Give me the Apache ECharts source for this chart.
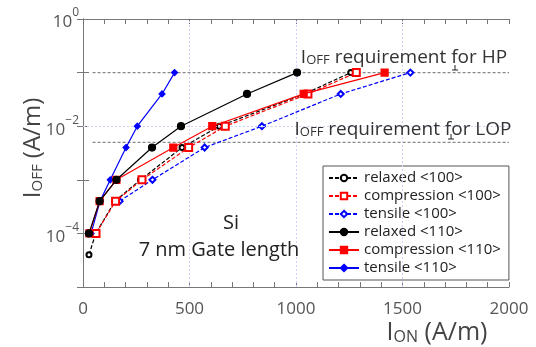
<!DOCTYPE html>
<html><head><meta charset="utf-8">
<script src="https://cdn.jsdelivr.net/npm/echarts@6/dist/echarts.min.js"></script>
<style>html,body{margin:0;padding:0;background:#fff}#c{width:536px;height:347px}</style>
</head><body><div id="c"></div>
<script>
// ---- data ----
const xTicks = [0, 500, 1000, 1500, 2000];
const yTickExps = [0, -2, -4];
const gridX = [500, 1000, 1500];
const gridY = [1e-2, 1e-4];
const hpLevel = 0.1;
const lopLevel = 0.005;
const reqStart = 45;

const ionRelaxed100 = [28, 60, 150, 270, 465, 640, 1040, 1257];
const ioffRelaxed100 = [4e-5, 1e-4, 4e-4, 1e-3, 4e-3, 1e-2, 4e-2, 1e-1];
const ionComp100 = [61, 153, 277, 496, 668, 1056, 1283];
const ioffComp100 = [1e-4, 4e-4, 1e-3, 4e-3, 1e-2, 4e-2, 1e-1];
const ionTens100 = [172, 326, 571, 840, 1210, 1537];
const ioffTens100 = [4e-4, 1e-3, 4e-3, 1e-2, 4e-2, 1e-1];
const ionRelaxed110 = [28, 78, 157, 324, 460, 770, 1005];
const ioffRelaxed110 = [1e-4, 4e-4, 1e-3, 4e-3, 1e-2, 4e-2, 1e-1];
const ionComp110 = [30, 78, 157, 424, 607, 1036, 1416];
const ioffComp110 = [1e-4, 4e-4, 1e-3, 4e-3, 1e-2, 4e-2, 1e-1];
const ionTens110 = [38, 80, 128, 202, 255, 371, 430];
const ioffTens110 = [1e-4, 4e-4, 1e-3, 4e-3, 1e-2, 4e-2, 1e-1];

const names = ['relaxed <100>', 'compression <100>', 'tensile <100>', 'relaxed <110>', 'compression <110>', 'tensile <110>'];

// ---- chart ----
const FONT = 'Open Sans';
const zip = (a, b) => a.map((v, i) => [v, b[i]]);
const chart = echarts.init(document.getElementById('c'), null, {renderer: 'canvas'});
const axisCol = '#777';
const labelCol = '#555';

function yFmt(v) {
  const e = Math.round(Math.log10(v));
  if (yTickExps.indexOf(e) < 0) return '';
  return '{b|10}{s|' + (e === 0 ? '0' : '\u2212' + (-e)) + '}';
}

function mkSeries(name, x, y, color, symbol, size, dashed, z) {
  return {
    name, type: 'line', data: zip(x, y), symbol, symbolSize: size, z: z,
    lineStyle: {color, width: 1.2, type: dashed ? [4, 2] : 'solid'},
    itemStyle: {color, borderColor: color, borderWidth: 1.2},
    emphasis: {disabled: true}, animation: false
  };
}

const option = {
  animation: false,
  backgroundColor: '#fff',
  textStyle: {fontFamily: FONT},
  grid: {left: 83, right: 27, top: 19, bottom: 60},
  xAxis: [{
    type: 'value', min: 0, max: 2000, interval: 500, position: 'bottom',
    axisLine: {show: true, lineStyle: {color: axisCol, width: 1}},
    axisTick: {show: true, inside: true, length: 5, lineStyle: {color: axisCol}},
    minorTick: {show: true, splitNumber: 5, length: 5, lineStyle: {color: axisCol}},
    axisLabel: {color: labelCol, fontSize: 17, margin: 14, fontFamily: FONT,
      formatter: v => xTicks.indexOf(v) >= 0 ? String(v) : ''},
    splitLine: {show: false}
  }, {
    type: 'value', min: 0, max: 2000, interval: 500, position: 'top',
    axisLine: {show: true, lineStyle: {color: axisCol, width: 1}},
    axisTick: {show: true, inside: true, length: 5, lineStyle: {color: axisCol}},
    minorTick: {show: true, splitNumber: 5, length: 5, lineStyle: {color: axisCol}},
    axisLabel: {show: false}, splitLine: {show: false}
  }],
  yAxis: [{
    type: 'log', logBase: 10, min: 1e-5, max: 1, interval: 1, position: 'left',
    axisLine: {show: true, lineStyle: {color: axisCol, width: 1}},
    axisTick: {show: true, inside: true, length: 6, lineStyle: {color: axisCol}},
    axisLabel: {color: labelCol, margin: 4, fontFamily: FONT, formatter: yFmt,
      rich: {
        b: {fontSize: 17, color: labelCol, fontFamily: FONT, lineHeight: 24, verticalAlign: 'bottom'},
        s: {fontSize: 12, color: labelCol, fontFamily: FONT, lineHeight: 24, verticalAlign: 'top'}
      }},
    splitLine: {show: false}
  }, {
    type: 'log', logBase: 10, min: 1e-5, max: 1, interval: 1, position: 'right',
    axisLine: {show: true, lineStyle: {color: axisCol, width: 1}},
    axisTick: {show: true, inside: true, length: 6, lineStyle: {color: axisCol}},
    axisLabel: {show: false}, splitLine: {show: false}
  }],
  legend: {
    data: names, orient: 'vertical', left: 323, top: 166,
    padding: [4, 8, 4, 5], itemGap: 2, itemWidth: 30, itemHeight: 8,
    backgroundColor: '#fff', borderColor: '#555', borderWidth: 1,
    textStyle: {fontSize: 15, color: '#222', fontFamily: FONT, lineHeight: 16},
    selectedMode: false
  },
  series: [
    {
      type: 'line', data: [], silent: true, z: 1,
      markLine: {
        silent: true, symbol: 'none', label: {show: false}, animation: false,
        lineStyle: {color: '#cfd2fa', type: [2, 2], width: 1},
        data: gridX.map(v => ({xAxis: v})).concat(gridY.map(v => ({yAxis: v})))
      }
    },
    {
      type: 'line', data: [[reqStart, hpLevel], [2000, hpLevel]], symbol: 'none', silent: true, z: 2,
      lineStyle: {color: '#888', width: 1.2, type: [3, 2]}
    },
    {
      type: 'line', data: [[reqStart, lopLevel], [2000, lopLevel]], symbol: 'none', silent: true, z: 2,
      lineStyle: {color: '#888', width: 1.2, type: [3, 2]}
    },
    mkSeries(names[0], ionRelaxed100, ioffRelaxed100, '#000', 'emptyCircle', 5, true, 4),
    mkSeries(names[1], ionComp100, ioffComp100, '#ff0000', 'emptyRect', 7, true, 5),
    mkSeries(names[2], ionTens100, ioffTens100, '#0000ff', 'emptyDiamond', 6, true, 3),
    mkSeries(names[3], ionRelaxed110, ioffRelaxed110, '#000', 'circle', 7, false, 7),
    mkSeries(names[4], ionComp110, ioffComp110, '#ff0000', 'rect', 7, false, 6),
    mkSeries(names[5], ionTens110, ioffTens110, '#0000ff', 'diamond', 6, false, 5)
  ],
  graphic: [
    {type: 'text', x: 30, y: 148, rotation: Math.PI / 2, z: 100,
      style: {text: '{a|I}{b|OFF}{a| (A/m)}', align: 'center', verticalAlign: 'middle',
        rich: {a: {fontSize: 24, fill: '#444', fontFamily: FONT, lineHeight: 30, verticalAlign: 'bottom'},
               b: {fontSize: 15, fill: '#444', fontFamily: FONT, lineHeight: 30, verticalAlign: 'bottom'}}}},
    {type: 'text', x: 437, y: 330, z: 100,
      style: {text: '{a|I}{b|ON}{a| (A/m)}', align: 'center', verticalAlign: 'middle',
        rich: {a: {fontSize: 25, fill: '#444', fontFamily: FONT, lineHeight: 30, verticalAlign: 'bottom'},
               b: {fontSize: 16, fill: '#444', fontFamily: FONT, lineHeight: 30, verticalAlign: 'bottom'}}}},
    {type: 'text', x: 404, y: 55, z: 100,
      style: {text: '{a|I}{b|OFF}{a| requirement for HP}', align: 'center', verticalAlign: 'middle',
        rich: {a: {fontSize: 19, fill: '#333', fontFamily: FONT, lineHeight: 24, verticalAlign: 'bottom'},
               b: {fontSize: 13, fill: '#333', fontFamily: FONT, lineHeight: 24, verticalAlign: 'bottom'}}}},
    {type: 'text', x: 403, y: 127, z: 100,
      style: {text: '{a|I}{b|OFF}{a| requirement for LOP}', align: 'center', verticalAlign: 'middle',
        rich: {a: {fontSize: 19, fill: '#333', fontFamily: FONT, lineHeight: 24, verticalAlign: 'bottom'},
               b: {fontSize: 13, fill: '#333', fontFamily: FONT, lineHeight: 24, verticalAlign: 'bottom'}}}},
    {type: 'text', x: 231, y: 223, z: 100,
      style: {text: 'Si', align: 'center', verticalAlign: 'middle', fontSize: 20, fill: '#222', fontFamily: FONT}},
    {type: 'text', x: 219, y: 250, z: 100,
      style: {text: '7 nm Gate length', align: 'center', verticalAlign: 'middle', fontSize: 20, fill: '#222', fontFamily: FONT}},
    {type: 'line', z: 100, shape: {x1: 455, y1: 65, x2: 455, y2: 70}, style: {stroke: '#222', lineWidth: 1}},
    {type: 'line', z: 100, shape: {x1: 452, y1: 70, x2: 458, y2: 70}, style: {stroke: '#222', lineWidth: 1}},
    {type: 'line', z: 100, shape: {x1: 451, y1: 134, x2: 451, y2: 139}, style: {stroke: '#222', lineWidth: 1}},
    {type: 'line', z: 100, shape: {x1: 448, y1: 139, x2: 454, y2: 139}, style: {stroke: '#222', lineWidth: 1}}
  ]
};
chart.setOption(option);
</script>
</body></html>
